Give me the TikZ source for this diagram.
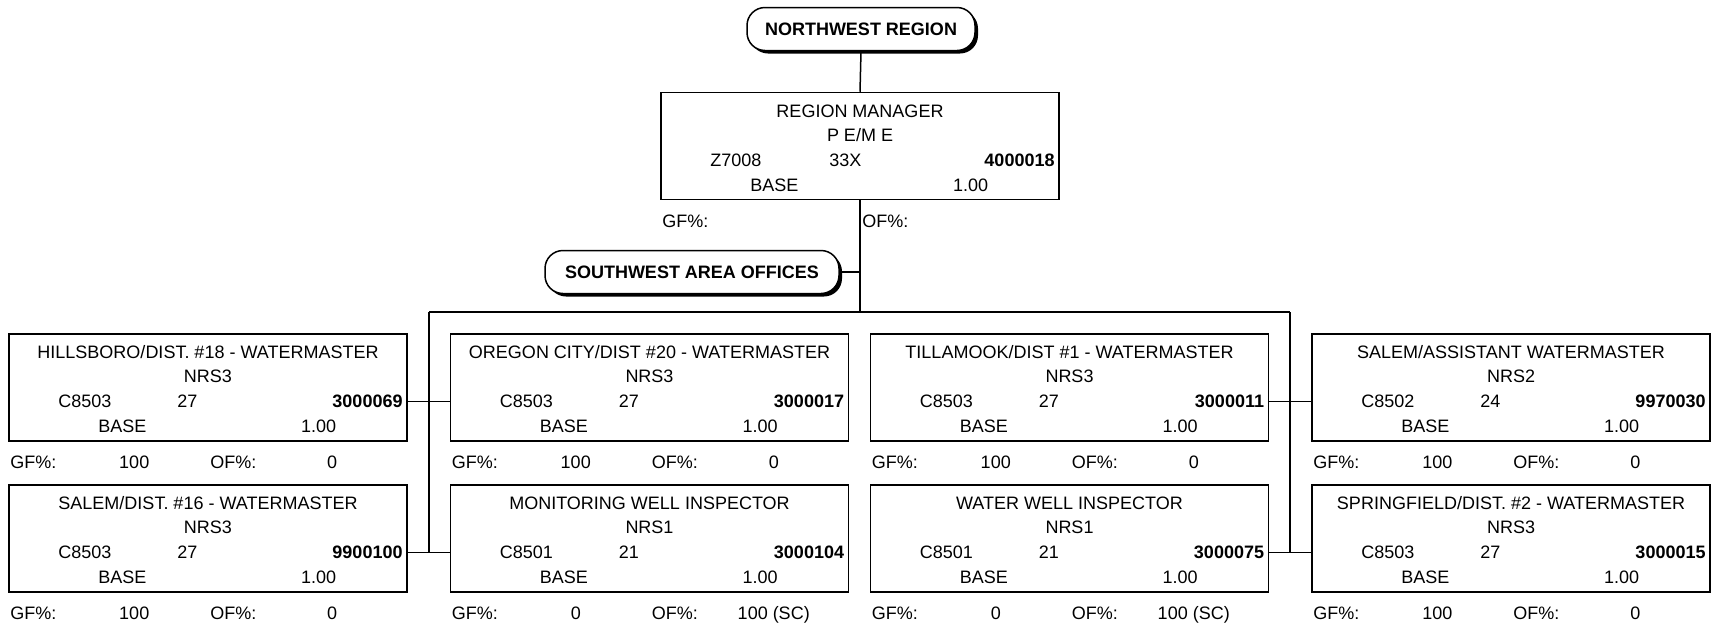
\documentclass[tikz,border=0pt]{standalone}
\usepackage{fontspec}
\setmainfont{Liberation Sans}
\usetikzlibrary{positioning, shadows}

\tikzset{
  orgbox/.style={draw, line width=1.5pt, minimum width=398pt, minimum height=107pt, inner sep=0pt},
  txt/.style={inner sep=0pt, text height=13pt, text depth=0pt, font=\fontsize{18}{22}\selectfont},
  numtxt/.style={txt, font=\fontsize{18}{22}\selectfont\bfseries},
  pill/.style={draw, line width=1.5pt, fill=white, rounded corners=18pt, minimum height=43pt, inner sep=0pt,
    font=\fontsize{18}{22}\selectfont\bfseries,
    drop shadow={shadow xshift=3pt, shadow yshift=-3pt, fill=black, opacity=1}},
  link/.style={line width=1.5pt}
}

% one position box: name, centre, title, grade, class, range, number, GF, OF
\newcommand{\orgbox}[9]{%
  \node[orgbox] (#1) at #2 {};
  \node[txt] (#1-title) at ([yshift=-19]#1.north) {#3};
  \node[txt] (#1-grade) at ([yshift=-43]#1.north) {#4};
  \node[txt, anchor=west] (#1-class) at ([xshift=50, yshift=-68]#1.north west) {#5};
  \node[txt, anchor=west] (#1-range) at ([xshift=169, yshift=-68]#1.north west) {#6};
  \node[numtxt, anchor=east] (#1-num) at ([xshift=-5, yshift=-68]#1.north east) {#7};
  \node[txt, anchor=west] (#1-base) at ([xshift=90, yshift=-93]#1.north west) {BASE};
  \node[txt, anchor=east] (#1-fte) at ([xshift=328, yshift=-93]#1.north west) {1.00};
  \node[txt, anchor=west] (#1-gf) at ([xshift=2, yshift=-129]#1.north west) {GF\%:};
  \node[txt] (#1-gfv) at ([xshift=126, yshift=-129]#1.north west) {#8};
  \node[txt, anchor=west] (#1-of) at ([xshift=202, yshift=-129]#1.north west) {OF\%:};
  \node[txt] (#1-ofv) at ([xshift=324, yshift=-129]#1.north west) {#9};
}

\begin{document}
\begin{tikzpicture}[x=1pt, y=-1pt]
	\useasboundingbox (0,0) rectangle (1711,625);

	% Region heading and manager
	\node[pill, minimum width=228pt] (nwr) at (861,29) {NORTHWEST REGION};
	\orgbox{rm}{(860,146)}{REGION MANAGER}{P E/M E}{Z7008}{33X}{4000018}{}{}
	\draw[link] (nwr.south) -- (rm.north);

	% Area offices heading and bus
	\node[pill, minimum width=294pt] (swa) at (692,272) {SOUTHWEST AREA OFFICES};
	\coordinate (busM) at (860,312);
	\coordinate (busL) at (429,312);
	\coordinate (busR) at (1290,312);
	\draw[link] (rm.south) -- (busM);
	\draw[link] (swa.east) -- (swa.east -| busM);
	\draw[link] (busL) -- (busR);

	% Left pair of columns
	\orgbox{hil}{(208,387.5)}{HILLSBORO/DIST. \#18 - WATERMASTER}{NRS3}{C8503}{27}{3000069}{100}{0}
	\orgbox{sld}{(208,538.5)}{SALEM/DIST. \#16 - WATERMASTER}{NRS3}{C8503}{27}{9900100}{100}{0}
	\orgbox{ocy}{(649.5,387.5)}{OREGON CITY/DIST \#20 - WATERMASTER}{NRS3}{C8503}{27}{3000017}{100}{0}
	\orgbox{mwi}{(649.5,538.5)}{MONITORING WELL INSPECTOR}{NRS1}{C8501}{21}{3000104}{0}{100 (SC)}
	\draw[link] (busL) -- (busL |- sld-num);
	\draw[link] (hil.east |- hil-num) -- (busL |- hil-num);
	\draw[link] (sld.east |- sld-num) -- (busL |- sld-num);
	\draw[link] (ocy.west |- ocy-num) -- (busL |- ocy-num);
	\draw[link] (mwi.west |- mwi-num) -- (busL |- mwi-num);

	% Right pair of columns
	\orgbox{til}{(1069.5,387.5)}{TILLAMOOK/DIST \#1 - WATERMASTER}{NRS3}{C8503}{27}{3000011}{100}{0}
	\orgbox{wwi}{(1069.5,538.5)}{WATER WELL INSPECTOR}{NRS1}{C8501}{21}{3000075}{0}{100 (SC)}
	\orgbox{saw}{(1511,387.5)}{SALEM/ASSISTANT WATERMASTER}{NRS2}{C8502}{24}{9970030}{100}{0}
	\orgbox{spr}{(1511,538.5)}{SPRINGFIELD/DIST. \#2 - WATERMASTER}{NRS3}{C8503}{27}{3000015}{100}{0}
	\draw[link] (busR) -- (busR |- spr-num);
	\draw[link] (til.east |- til-num) -- (busR |- til-num);
	\draw[link] (wwi.east |- wwi-num) -- (busR |- wwi-num);
	\draw[link] (saw.west |- saw-num) -- (busR |- saw-num);
	\draw[link] (spr.west |- spr-num) -- (busR |- spr-num);

\end{tikzpicture}
\end{document}
